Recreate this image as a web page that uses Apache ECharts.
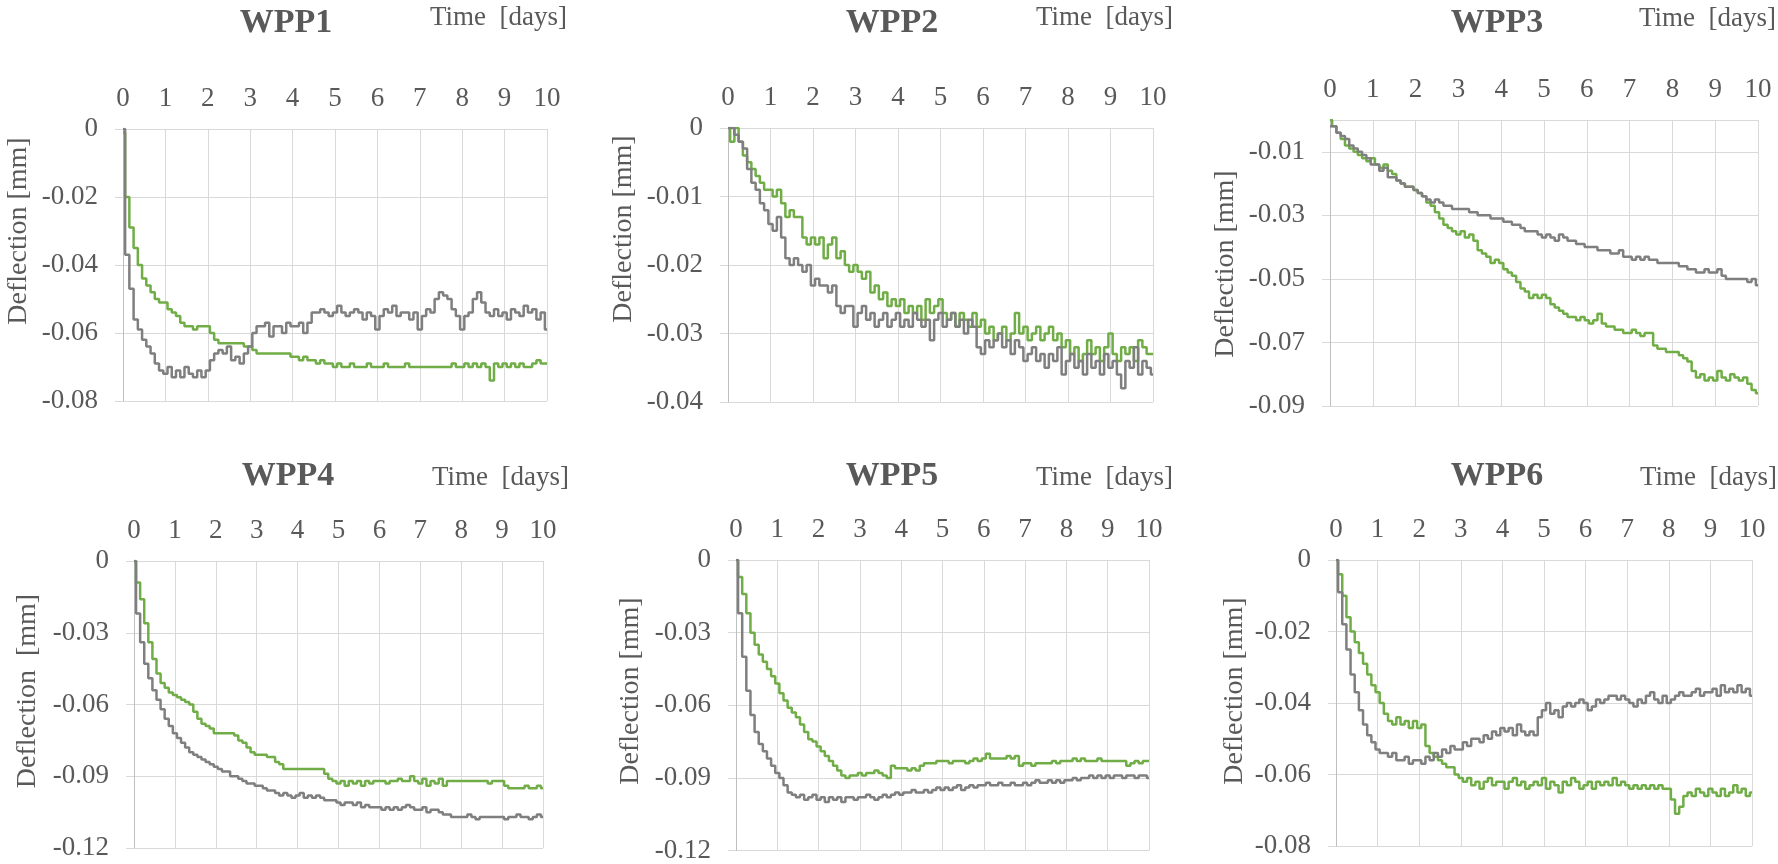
<!DOCTYPE html>
<html>
<head>
<meta charset="utf-8">
<title>WPP deflection</title>
<script src="https://cdn.jsdelivr.net/npm/echarts@6/dist/echarts.min.js"></script>
<style>
html, body { margin: 0; padding: 0; background: #fff; }
#main { width: 1778px; height: 864px; }
</style>
</head>
<body>
<div id="main"></div>
<script>
// time axis shared by every panel, days
var days = [
  0, 0.1, 0.2, 0.3, 0.4, 0.5, 0.6, 0.7, 0.8, 0.9,
  1, 1.1, 1.2, 1.3, 1.4, 1.5, 1.6, 1.7, 1.8, 1.9,
  2, 2.1, 2.2, 2.3, 2.4, 2.5, 2.6, 2.7, 2.8, 2.9,
  3, 3.1, 3.2, 3.3, 3.4, 3.5, 3.6, 3.7, 3.8, 3.9,
  4, 4.1, 4.2, 4.3, 4.4, 4.5, 4.6, 4.7, 4.8, 4.9,
  5, 5.1, 5.2, 5.3, 5.4, 5.5, 5.6, 5.7, 5.8, 5.9,
  6, 6.1, 6.2, 6.3, 6.4, 6.5, 6.6, 6.7, 6.8, 6.9,
  7, 7.1, 7.2, 7.3, 7.4, 7.5, 7.6, 7.7, 7.8, 7.9,
  8, 8.1, 8.2, 8.3, 8.4, 8.5, 8.6, 8.7, 8.8, 8.9,
  9, 9.1, 9.2, 9.3, 9.4, 9.5, 9.6, 9.7, 9.8, 9.9,
  10
];

// deflection in mm
var wpp1Gray = [
  0, -0.037, -0.047, -0.056, -0.059, -0.062, -0.064, -0.066, -0.069, -0.071,
  -0.072, -0.070, -0.073, -0.071, -0.073, -0.070, -0.072, -0.073, -0.071, -0.073,
  -0.071, -0.068, -0.066, -0.065, -0.066, -0.064, -0.068, -0.067, -0.069, -0.066,
  -0.064, -0.060, -0.058, -0.058, -0.057, -0.061, -0.058, -0.058, -0.060, -0.057,
  -0.058, -0.058, -0.057, -0.060, -0.057, -0.054, -0.054, -0.053, -0.054, -0.055,
  -0.054, -0.052, -0.054, -0.055, -0.054, -0.053, -0.054, -0.056, -0.054, -0.055,
  -0.059, -0.055, -0.053, -0.054, -0.052, -0.055, -0.054, -0.054, -0.056, -0.054,
  -0.059, -0.055, -0.053, -0.054, -0.050, -0.048, -0.049, -0.050, -0.053, -0.055,
  -0.059, -0.055, -0.054, -0.050, -0.048, -0.051, -0.054, -0.055, -0.053, -0.055,
  -0.054, -0.056, -0.053, -0.054, -0.055, -0.052, -0.054, -0.053, -0.056, -0.054,
  -0.059
];
var wpp1Green = [
  -0.001, -0.020, -0.029, -0.035, -0.040, -0.044, -0.046, -0.048, -0.050, -0.051,
  -0.051, -0.053, -0.054, -0.055, -0.057, -0.058, -0.058, -0.059, -0.058, -0.058,
  -0.058, -0.060, -0.062, -0.063, -0.063, -0.063, -0.063, -0.063, -0.063, -0.064,
  -0.064, -0.065, -0.066, -0.066, -0.066, -0.066, -0.066, -0.066, -0.066, -0.066,
  -0.067, -0.067, -0.068, -0.067, -0.068, -0.068, -0.069, -0.068, -0.069, -0.069,
  -0.070, -0.069, -0.070, -0.070, -0.069, -0.070, -0.070, -0.070, -0.069, -0.070,
  -0.070, -0.070, -0.069, -0.070, -0.070, -0.070, -0.070, -0.069, -0.070, -0.070,
  -0.070, -0.070, -0.070, -0.070, -0.070, -0.070, -0.070, -0.070, -0.069, -0.070,
  -0.070, -0.069, -0.070, -0.069, -0.070, -0.069, -0.070, -0.074, -0.069, -0.070,
  -0.069, -0.070, -0.069, -0.070, -0.069, -0.070, -0.070, -0.069, -0.068, -0.069,
  -0.069
];

var wpp2Gray = [
  0, 0, -0.001, -0.002, -0.003, -0.006, -0.008, -0.009, -0.011, -0.012,
  -0.014, -0.015, -0.013, -0.016, -0.019, -0.020, -0.019, -0.020, -0.021, -0.020,
  -0.023, -0.022, -0.023, -0.023, -0.024, -0.023, -0.026, -0.027, -0.026, -0.026,
  -0.029, -0.027, -0.026, -0.028, -0.027, -0.029, -0.028, -0.027, -0.029, -0.028,
  -0.027, -0.029, -0.028, -0.029, -0.027, -0.028, -0.029, -0.028, -0.031, -0.028,
  -0.027, -0.029, -0.028, -0.027, -0.029, -0.028, -0.030, -0.028, -0.029, -0.032,
  -0.033, -0.031, -0.032, -0.031, -0.030, -0.032, -0.031, -0.033, -0.031, -0.032,
  -0.034, -0.033, -0.032, -0.034, -0.033, -0.035, -0.033, -0.034, -0.032, -0.036,
  -0.034, -0.033, -0.035, -0.034, -0.036, -0.033, -0.035, -0.034, -0.036, -0.033,
  -0.035, -0.034, -0.036, -0.038, -0.034, -0.035, -0.032, -0.036, -0.034, -0.035,
  -0.036
];
var wpp2Green = [
  0, -0.002, 0, -0.002, -0.004, -0.005, -0.006, -0.007, -0.008, -0.009,
  -0.009, -0.010, -0.009, -0.011, -0.013, -0.012, -0.013, -0.013, -0.016, -0.017,
  -0.016, -0.017, -0.016, -0.019, -0.017, -0.016, -0.019, -0.018, -0.020, -0.021,
  -0.020, -0.021, -0.022, -0.021, -0.024, -0.023, -0.025, -0.024, -0.026, -0.025,
  -0.026, -0.025, -0.027, -0.026, -0.027, -0.026, -0.028, -0.025, -0.027, -0.026,
  -0.025, -0.027, -0.028, -0.027, -0.029, -0.027, -0.028, -0.029, -0.027, -0.029,
  -0.028, -0.030, -0.029, -0.031, -0.030, -0.029, -0.031, -0.030, -0.027, -0.030,
  -0.029, -0.031, -0.030, -0.029, -0.031, -0.030, -0.029, -0.031, -0.030, -0.032,
  -0.031, -0.033, -0.032, -0.034, -0.033, -0.031, -0.033, -0.032, -0.034, -0.032,
  -0.030, -0.033, -0.034, -0.032, -0.033, -0.032, -0.034, -0.031, -0.032, -0.033,
  -0.033
];

var wpp3Gray = [
  -0.002, -0.002, -0.004, -0.005, -0.006, -0.008, -0.009, -0.010, -0.011, -0.012,
  -0.014, -0.014, -0.016, -0.015, -0.018, -0.018, -0.019, -0.020, -0.021, -0.021,
  -0.022, -0.023, -0.024, -0.025, -0.026, -0.025, -0.026, -0.027, -0.027, -0.028,
  -0.028, -0.028, -0.028, -0.029, -0.029, -0.030, -0.030, -0.030, -0.031, -0.031,
  -0.031, -0.032, -0.032, -0.033, -0.033, -0.034, -0.035, -0.035, -0.035, -0.036,
  -0.037, -0.036, -0.037, -0.038, -0.036, -0.037, -0.038, -0.038, -0.039, -0.039,
  -0.040, -0.040, -0.040, -0.041, -0.041, -0.041, -0.042, -0.042, -0.041, -0.043,
  -0.043, -0.044, -0.043, -0.044, -0.043, -0.044, -0.044, -0.045, -0.045, -0.045,
  -0.045, -0.045, -0.046, -0.046, -0.047, -0.047, -0.048, -0.048, -0.047, -0.048,
  -0.048, -0.047, -0.049, -0.050, -0.050, -0.050, -0.050, -0.050, -0.051, -0.050,
  -0.052
];
var wpp3Green = [
  0, -0.002, -0.004, -0.006, -0.008, -0.009, -0.010, -0.011, -0.012, -0.013,
  -0.012, -0.014, -0.015, -0.014, -0.016, -0.017, -0.019, -0.020, -0.021, -0.021,
  -0.022, -0.023, -0.024, -0.026, -0.027, -0.029, -0.031, -0.033, -0.034, -0.035,
  -0.036, -0.035, -0.037, -0.036, -0.038, -0.041, -0.042, -0.043, -0.045, -0.044,
  -0.045, -0.047, -0.048, -0.049, -0.051, -0.053, -0.054, -0.056, -0.055, -0.056,
  -0.055, -0.056, -0.058, -0.059, -0.060, -0.061, -0.062, -0.062, -0.063, -0.062,
  -0.063, -0.064, -0.063, -0.061, -0.064, -0.065, -0.065, -0.066, -0.066, -0.067,
  -0.067, -0.066, -0.067, -0.068, -0.067, -0.067, -0.071, -0.072, -0.072, -0.073,
  -0.073, -0.073, -0.074, -0.075, -0.076, -0.079, -0.081, -0.080, -0.082, -0.081,
  -0.082, -0.079, -0.081, -0.082, -0.080, -0.081, -0.082, -0.081, -0.083, -0.085,
  -0.086
];

var wpp4Gray = [
  0, -0.022, -0.034, -0.043, -0.049, -0.054, -0.058, -0.062, -0.066, -0.069,
  -0.072, -0.074, -0.076, -0.078, -0.080, -0.081, -0.082, -0.083, -0.084, -0.085,
  -0.086, -0.087, -0.088, -0.088, -0.090, -0.090, -0.091, -0.092, -0.093, -0.093,
  -0.094, -0.094, -0.095, -0.096, -0.096, -0.097, -0.098, -0.097, -0.098, -0.099,
  -0.098, -0.097, -0.099, -0.098, -0.099, -0.098, -0.099, -0.100, -0.100, -0.100,
  -0.101, -0.102, -0.101, -0.101, -0.102, -0.101, -0.103, -0.102, -0.103, -0.103,
  -0.103, -0.104, -0.103, -0.104, -0.103, -0.104, -0.103, -0.102, -0.103, -0.104,
  -0.104, -0.103, -0.105, -0.104, -0.104, -0.105, -0.106, -0.106, -0.107, -0.107,
  -0.107, -0.107, -0.106, -0.107, -0.108, -0.107, -0.107, -0.107, -0.107, -0.107,
  -0.107, -0.108, -0.107, -0.107, -0.106, -0.107, -0.107, -0.108, -0.107, -0.106,
  -0.107
];
var wpp4Green = [
  0, -0.009, -0.016, -0.026, -0.034, -0.041, -0.047, -0.051, -0.053, -0.055,
  -0.056, -0.057, -0.058, -0.059, -0.060, -0.063, -0.066, -0.068, -0.069, -0.070,
  -0.072, -0.072, -0.072, -0.072, -0.072, -0.073, -0.075, -0.076, -0.078, -0.080,
  -0.081, -0.081, -0.081, -0.082, -0.082, -0.084, -0.085, -0.087, -0.087, -0.087,
  -0.087, -0.087, -0.087, -0.087, -0.087, -0.087, -0.087, -0.089, -0.091, -0.092,
  -0.093, -0.092, -0.094, -0.092, -0.093, -0.092, -0.094, -0.092, -0.093, -0.092,
  -0.092, -0.092, -0.093, -0.092, -0.092, -0.091, -0.092, -0.092, -0.090, -0.092,
  -0.093, -0.091, -0.094, -0.092, -0.093, -0.091, -0.094, -0.092, -0.092, -0.092,
  -0.092, -0.092, -0.092, -0.092, -0.092, -0.092, -0.092, -0.093, -0.092, -0.092,
  -0.092, -0.094, -0.095, -0.095, -0.095, -0.095, -0.094, -0.095, -0.095, -0.094,
  -0.095
];

var wpp5Gray = [
  0, -0.022, -0.040, -0.054, -0.064, -0.071, -0.076, -0.079, -0.082, -0.085,
  -0.088, -0.090, -0.093, -0.096, -0.097, -0.098, -0.097, -0.099, -0.098, -0.097,
  -0.099, -0.098, -0.100, -0.098, -0.099, -0.098, -0.100, -0.098, -0.098, -0.099,
  -0.098, -0.098, -0.097, -0.098, -0.099, -0.098, -0.097, -0.098, -0.097, -0.096,
  -0.097, -0.096, -0.096, -0.095, -0.096, -0.096, -0.095, -0.096, -0.095, -0.094,
  -0.095, -0.094, -0.095, -0.094, -0.093, -0.095, -0.094, -0.093, -0.094, -0.093,
  -0.093, -0.092, -0.093, -0.093, -0.092, -0.093, -0.093, -0.092, -0.093, -0.093,
  -0.092, -0.093, -0.092, -0.091, -0.092, -0.092, -0.091, -0.092, -0.091, -0.092,
  -0.091, -0.091, -0.090, -0.091, -0.090, -0.090, -0.089, -0.090, -0.089, -0.090,
  -0.089, -0.090, -0.089, -0.089, -0.090, -0.089, -0.089, -0.090, -0.089, -0.089,
  -0.090
];
var wpp5Green = [
  0, -0.007, -0.014, -0.022, -0.030, -0.035, -0.039, -0.042, -0.045, -0.048,
  -0.051, -0.055, -0.058, -0.061, -0.063, -0.065, -0.068, -0.071, -0.074, -0.075,
  -0.077, -0.079, -0.081, -0.083, -0.085, -0.087, -0.089, -0.090, -0.089, -0.089,
  -0.088, -0.089, -0.088, -0.088, -0.087, -0.088, -0.089, -0.090, -0.085, -0.086,
  -0.086, -0.086, -0.087, -0.086, -0.087, -0.085, -0.084, -0.084, -0.084, -0.083,
  -0.083, -0.083, -0.084, -0.083, -0.083, -0.083, -0.084, -0.083, -0.082, -0.083,
  -0.082, -0.080, -0.082, -0.082, -0.082, -0.082, -0.081, -0.082, -0.081, -0.085,
  -0.084, -0.084, -0.085, -0.084, -0.084, -0.084, -0.084, -0.083, -0.084, -0.083,
  -0.083, -0.083, -0.082, -0.083, -0.082, -0.083, -0.083, -0.083, -0.082, -0.083,
  -0.083, -0.083, -0.083, -0.083, -0.083, -0.085, -0.084, -0.083, -0.084, -0.083,
  -0.083
];

var wpp6Gray = [
  0, -0.009, -0.018, -0.025, -0.032, -0.037, -0.042, -0.046, -0.049, -0.051,
  -0.053, -0.054, -0.054, -0.055, -0.054, -0.056, -0.056, -0.055, -0.057, -0.056,
  -0.056, -0.057, -0.055, -0.056, -0.054, -0.055, -0.053, -0.054, -0.052, -0.053,
  -0.053, -0.051, -0.052, -0.050, -0.050, -0.051, -0.049, -0.050, -0.048, -0.049,
  -0.047, -0.048, -0.047, -0.049, -0.046, -0.048, -0.049, -0.048, -0.049, -0.044,
  -0.042, -0.040, -0.043, -0.042, -0.044, -0.041, -0.040, -0.041, -0.040, -0.039,
  -0.040, -0.042, -0.041, -0.039, -0.040, -0.039, -0.038, -0.038, -0.039, -0.038,
  -0.039, -0.040, -0.041, -0.039, -0.040, -0.038, -0.037, -0.039, -0.040, -0.038,
  -0.040, -0.039, -0.038, -0.037, -0.038, -0.038, -0.037, -0.036, -0.038, -0.037,
  -0.037, -0.036, -0.038, -0.035, -0.037, -0.036, -0.037, -0.035, -0.037, -0.036,
  -0.038
];
var wpp6Green = [
  0, -0.004, -0.010, -0.016, -0.020, -0.023, -0.026, -0.029, -0.032, -0.035,
  -0.037, -0.040, -0.043, -0.045, -0.046, -0.044, -0.046, -0.045, -0.047, -0.045,
  -0.047, -0.046, -0.052, -0.054, -0.055, -0.056, -0.057, -0.058, -0.058, -0.060,
  -0.061, -0.062, -0.061, -0.063, -0.062, -0.064, -0.062, -0.061, -0.063, -0.062,
  -0.062, -0.064, -0.062, -0.061, -0.063, -0.062, -0.064, -0.063, -0.062, -0.063,
  -0.061, -0.064, -0.062, -0.063, -0.065, -0.062, -0.063, -0.061, -0.062, -0.064,
  -0.063, -0.062, -0.064, -0.062, -0.063, -0.062, -0.063, -0.061, -0.063, -0.062,
  -0.063, -0.064, -0.063, -0.064, -0.063, -0.064, -0.063, -0.064, -0.063, -0.064,
  -0.064, -0.067, -0.071, -0.069, -0.066, -0.065, -0.066, -0.064, -0.065, -0.066,
  -0.064, -0.065, -0.066, -0.064, -0.066, -0.065, -0.063, -0.065, -0.064, -0.066,
  -0.065
];

var titles = ['WPP1', 'WPP2', 'WPP3', 'WPP4', 'WPP5', 'WPP6'];
var grayData = [wpp1Gray, wpp2Gray, wpp3Gray, wpp4Gray, wpp5Gray, wpp6Gray];
var greenData = [wpp1Green, wpp2Green, wpp3Green, wpp4Green, wpp5Green, wpp6Green];
var yMins = [-0.08, -0.04, -0.09, -0.12, -0.12, -0.08];
var ySteps = [0.02, 0.01, 0.02, 0.03, 0.03, 0.02];
var yNames = ['Deflection [mm]', 'Deflection [mm]', 'Deflection [mm]',
  'Deflection  [mm]', 'Deflection [mm]', 'Deflection [mm]'];
var xName = 'Time  [days]';

// panel placement in px: plot box, title centre, x-name right end, y-name centre
var boxes = [
  { left: 123, top: 129, width: 424, height: 272, tx: 286, ty: 23, dx: 567, dy: 18, nx: 19, ny: 231 },
  { left: 728, top: 128, width: 425, height: 274, tx: 892, ty: 23, dx: 1173, dy: 18, nx: 624, ny: 229 },
  { left: 1330, top: 120, width: 428, height: 286, tx: 1497, ty: 23, dx: 1776, dy: 19, nx: 1226, ny: 264 },
  { left: 134, top: 561, width: 409, height: 287, tx: 288, ty: 476, dx: 569, dy: 478, nx: 28, ny: 691 },
  { left: 736, top: 560, width: 413, height: 292, tx: 892, ty: 476, dx: 1173, dy: 478, nx: 631, ny: 691 },
  { left: 1336, top: 560, width: 416, height: 286, tx: 1497, ty: 476, dx: 1777, dy: 478, nx: 1235, ny: 691 }
];

var FONT = '"Liberation Serif", "Times New Roman", serif';
var TXT = '#595959';
var GRID = '#d9d9d9';

function pairs(xs, ys) {
  return xs.map(function (x, i) { return [x, ys[i]]; });
}

var grids = [], xAxes = [], yAxes = [], series = [], graphic = [];

for (var i = 0; i < 6; i++) {
  var b = boxes[i];
  grids.push({ left: b.left, top: b.top, width: b.width, height: b.height, containLabel: false });

  xAxes.push({
    gridIndex: i, type: 'value', position: 'top', min: 0, max: 10, interval: 1,
    axisLine: { show: true, onZero: false, lineStyle: { color: GRID } },
    axisTick: { show: false },
    axisLabel: { margin: 17, color: TXT, fontSize: 27, fontFamily: FONT },
    splitLine: { show: true, lineStyle: { color: GRID, width: 1 } }
  });

  yAxes.push({
    gridIndex: i, type: 'value', min: yMins[i], max: 0, interval: ySteps[i],
    axisLine: { show: true, onZero: false, lineStyle: { color: '#bfbfbf' } },
    axisTick: { show: true, length: 8, lineStyle: { color: GRID } },
    axisLabel: {
      margin: 25, color: TXT, fontSize: 27, fontFamily: FONT,
      showMaxLabel: i !== 2
    },
    splitLine: { show: true, lineStyle: { color: GRID, width: 1 } }
  });

  series.push({
    name: titles[i] + ' green', type: 'line', xAxisIndex: i, yAxisIndex: i,
    data: pairs(days, greenData[i]), step: 'middle', showSymbol: false,
    lineStyle: { color: '#70ad47', width: 2.5 }, itemStyle: { color: '#70ad47' }
  });
  series.push({
    name: titles[i] + ' gray', type: 'line', xAxisIndex: i, yAxisIndex: i,
    data: pairs(days, grayData[i]), step: 'middle', showSymbol: false,
    lineStyle: { color: '#7f7f7f', width: 2.5 }, itemStyle: { color: '#7f7f7f' }
  });

  graphic.push({
    type: 'text', x: b.tx, y: b.ty,
    style: { text: titles[i], fontSize: 34, fontWeight: 'bold', fontFamily: FONT, fill: TXT,
      align: 'center', verticalAlign: 'middle', textAlign: 'center', textVerticalAlign: 'middle' }
  });
  graphic.push({
    type: 'text', x: b.dx, y: b.dy,
    style: { text: xName, fontSize: 27, fontFamily: FONT, fill: TXT,
      align: 'right', verticalAlign: 'middle', textAlign: 'right', textVerticalAlign: 'middle' }
  });
  graphic.push({
    type: 'text', x: b.nx, y: b.ny, rotation: Math.PI / 2,
    style: { text: yNames[i], fontSize: 28, fontFamily: FONT, fill: TXT,
      align: 'center', verticalAlign: 'middle', textAlign: 'center', textVerticalAlign: 'middle' }
  });
}

var chart = echarts.init(document.getElementById('main'), null, { renderer: 'canvas' });
chart.setOption({
  backgroundColor: '#ffffff',
  animation: false,
  grid: grids,
  xAxis: xAxes,
  yAxis: yAxes,
  series: series,
  graphic: graphic
});
</script>
</body>
</html>
